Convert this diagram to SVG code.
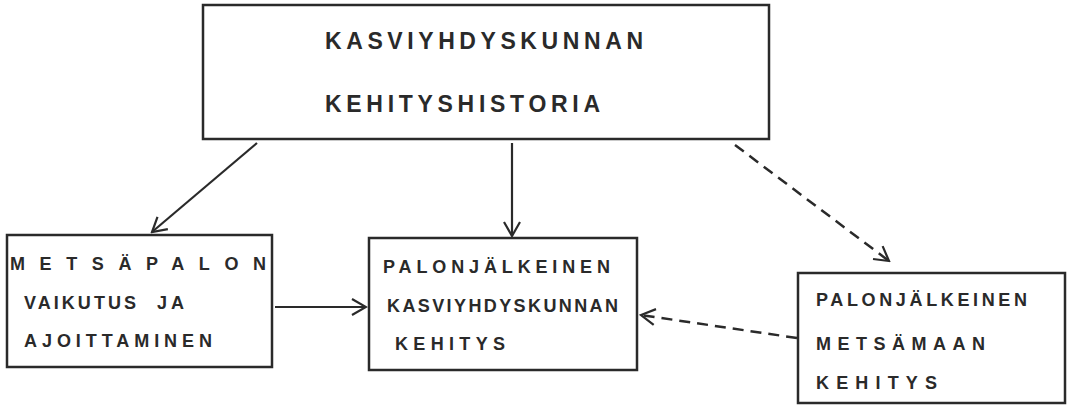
<svg xmlns="http://www.w3.org/2000/svg" width="1071" height="405" viewBox="0 0 1071 405">
<defs>
<style>
.box{fill:#fff;stroke:#2a2a2a;stroke-width:2.5}
.t{font-family:"Liberation Sans",Arial,sans-serif;font-weight:bold;fill:#2a2a2a}
.big{font-size:23px}
.sm{font-size:18px}
.c{fill:none;stroke:#2a2a2a;stroke-width:2.2}
.d{stroke-dasharray:11,7;stroke-width:2.5}
</style>
<marker id="ah" viewBox="0 0 20 20" refX="18" refY="10" markerWidth="20" markerHeight="20" markerUnits="userSpaceOnUse" orient="auto">
<path d="M4,2 L18,10 L4,18" fill="none" stroke="#2a2a2a" stroke-width="2.2"/>
</marker>
</defs>
<rect width="1071" height="405" fill="#fff"/>
<g id="connectors">
<line class="c" x1="257" y1="143" x2="152" y2="232" marker-end="url(#ah)"/>
<line class="c" x1="512" y1="143" x2="512" y2="236" marker-end="url(#ah)"/>
<line class="c d" x1="735" y1="145" x2="889" y2="261" marker-end="url(#ah)"/>
<line class="c" x1="275" y1="307" x2="366" y2="307" marker-end="url(#ah)"/>
<line class="c d" x1="797" y1="338" x2="641" y2="315" marker-end="url(#ah)"/>
</g>
<g id="n1">
<rect class="box" x="203" y="5" width="566" height="134"/>
<text class="t big" x="325" y="49" textLength="318" lengthAdjust="spacing">KASVIYHDYSKUNNAN</text>
<text class="t big" x="325" y="112" textLength="275" lengthAdjust="spacing">KEHITYSHISTORIA</text>
</g>
<g id="n2">
<rect class="box" x="7" y="235" width="265" height="132"/>
<text class="t sm" x="10" y="270" textLength="256" lengthAdjust="spacing">METSÄPALON</text>
<text class="t sm" x="24" y="309" textLength="112" lengthAdjust="spacing">VAIKUTUS</text>
<text class="t sm" x="157" y="309" textLength="27" lengthAdjust="spacing">JA</text>
<text class="t sm" x="24" y="347" textLength="188" lengthAdjust="spacing">AJOITTAMINEN</text>
</g>
<g id="n3">
<rect class="box" x="369" y="238" width="268" height="132"/>
<text class="t sm" x="383" y="273" textLength="227" lengthAdjust="spacing">PALONJÄLKEINEN</text>
<text class="t sm" x="387" y="312" textLength="231" lengthAdjust="spacing">KASVIYHDYSKUNNAN</text>
<text class="t sm" x="395" y="350" textLength="110" lengthAdjust="spacing">KEHITYS</text>
</g>
<g id="n4">
<rect class="box" x="798" y="273" width="267" height="130"/>
<text class="t sm" x="816" y="306" textLength="211" lengthAdjust="spacing">PALONJÄLKEINEN</text>
<text class="t sm" x="816" y="350" textLength="169" lengthAdjust="spacing">METSÄMAAN</text>
<text class="t sm" x="816" y="389" textLength="121" lengthAdjust="spacing">KEHITYS</text>
</g>
</svg>
